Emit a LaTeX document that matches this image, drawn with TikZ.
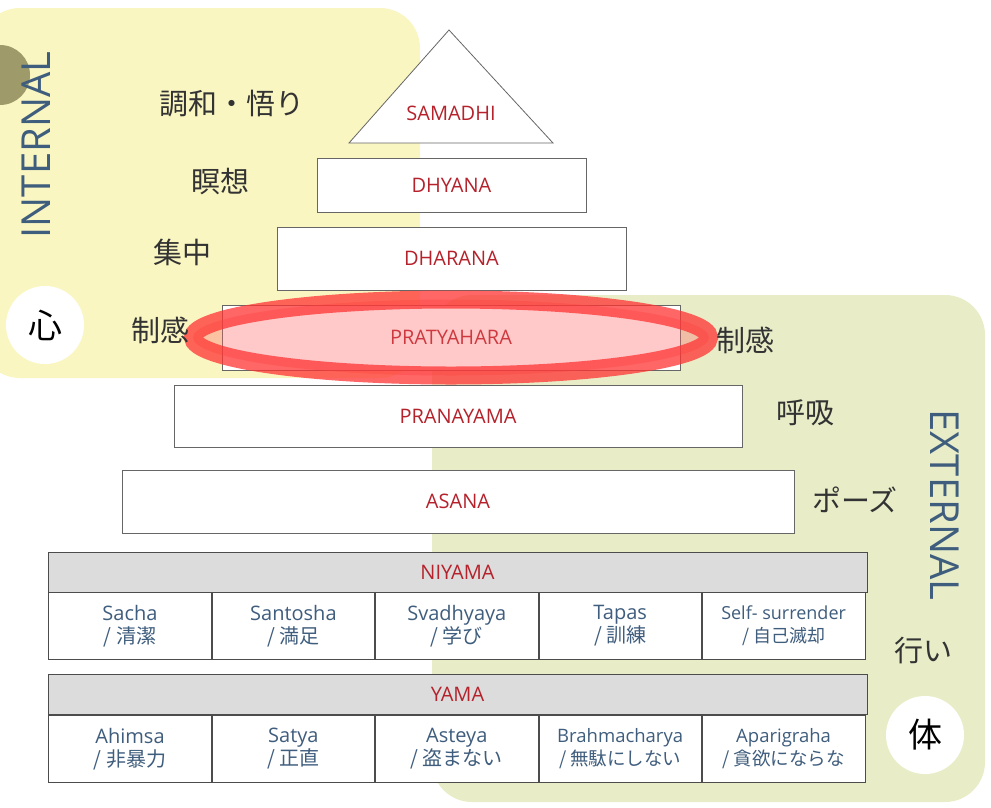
\documentclass[tikz,border=0pt]{standalone}
\usepackage{fontspec}
\usetikzlibrary{positioning}
\setmainfont{Open Sans}
\newfontfamily\jpfont{Noto Sans CJK JP}
\definecolor{lvred}{HTML}{B5222C}
\definecolor{lvblue}{HTML}{3F5D7D}
\definecolor{inyellow}{HTML}{FAF6C2}
\definecolor{exgreen}{HTML}{E8EDC8}
\definecolor{hdgray}{HTML}{DCDCDC}
\begin{document}
\begin{tikzpicture}[x=1pt, y=-1pt,
  limb/.style={draw=black!60, thick, fill=white},
  limbtext/.style={text=lvred, font=\fontsize{20}{22}\selectfont},
  jplabel/.style={font=\jpfont\fontsize{29}{32}\selectfont, text=black!80},
  cell/.style={draw=black!70, thick, fill=white, minimum width=162.6pt, minimum height=67pt, inner sep=0pt, align=center, text=lvblue, font=\fontsize{20}{23}\selectfont},
  header/.style={draw=black!70, thick, fill=hdgray, minimum width=819pt, minimum height=40pt, inner sep=0pt, text=lvred, font=\fontsize{20}{22}\selectfont},
  sidetext/.style={text=lvblue, font=\fontsize{40}{44}\selectfont},
  badge/.style={circle, fill=white, minimum size=78pt, inner sep=0pt, font=\jpfont\fontsize{34}{38}\selectfont}]
\useasboundingbox (0,0) rectangle (991,807);
\fill[white] (0,0) rectangle (991,807);
% areas
\fill[inyellow, rounded corners=40pt] (-20,8) rectangle (420,378);
\fill[exgreen, rounded corners=40pt] (432,295) rectangle (985,802);
\fill[black!45!olive!60] (0,75) circle (30pt);
% pyramid
\draw[limb] (449,30) -- (553,143) -- (349,143) -- cycle;
\node[limbtext] (samadhi) at (451,113) {SAMADHI};
\node[limb, minimum width=269pt, minimum height=54pt, inner sep=0pt] (dhyana) at (451.5,185) {};
\node[limbtext] at (dhyana) {DHYANA};
\node[limb, minimum width=349pt, minimum height=63pt, inner sep=0pt] (dharana) at (451.5,258.5) {};
\node[limbtext] at (dharana) {DHARANA};
\node[limb, minimum width=458pt, minimum height=65pt, inner sep=0pt] (pratyahara) at (451,337.5) {};
\node[limbtext] at (pratyahara) {PRATYAHARA};
\node[limb, minimum width=568pt, minimum height=62pt, inner sep=0pt] (pranayama) at (458,416) {};
\node[limbtext] at (pranayama) {PRANAYAMA};
\node[limb, minimum width=672pt, minimum height=63pt, inner sep=0pt] (asana) at (458,501.5) {};
\node[limbtext] at (asana) {ASANA};
% highlight
\fill[red!60, opacity=0.35] (pratyahara.center) ellipse (258pt and 38pt);
\draw[red!80, line width=18pt, opacity=0.75] (pratyahara.center) ellipse (258pt and 38pt);
% tables
\node[header] (niyama) at (457.5,572.5) {NIYAMA};
\node[cell] (n1) at (130,626) {Sacha\\{\jpfont / 清潔}};
\node[cell, right=0pt of n1] (n2) {Santosha\\{\jpfont / 満足}};
\node[cell, right=0pt of n2] (n3) {Svadhyaya\\{\jpfont / 学び}};
\node[cell, right=0pt of n3] (n4) {Tapas\\{\jpfont / 訓練}};
\node[cell, right=0pt of n4, font=\fontsize{18}{23}\selectfont] (n5) {Self- surrender\\{\jpfont / 自己滅却}};
\node[header] (yama) at (457.5,694.5) {YAMA};
\node[cell] (y1) at (130,749) {Ahimsa\\{\jpfont / 非暴力}};
\node[cell, right=0pt of y1] (y2) {Satya\\{\jpfont / 正直}};
\node[cell, right=0pt of y2] (y3) {Asteya\\{\jpfont / 盗まない}};
\node[cell, right=0pt of y3, font=\fontsize{18.5}{23}\selectfont] (y4) {Brahmacharya\\{\jpfont / 無駄にしない}};
\node[cell, right=0pt of y4, font=\fontsize{18.5}{23}\selectfont] (y5) {Aparigraha\\{\jpfont / 貪欲にならな}};
% labels
\node[jplabel] (lsamadhi) at (232,104) {調和・悟り};
\node[jplabel] (ldhyana) at (220,182) {瞑想};
\node[jplabel] (ldharana) at (182,252) {集中};
\node[jplabel] (lpraty) at (160,330) {制感};
\node[jplabel] (rpraty) at (745,340) {制感};
\node[jplabel] (rprana) at (805,413) {呼吸};
\node[jplabel] (rasana) at (855,500) {ポーズ};
\node[jplabel] (rniyama) at (923,650) {行い};
\node[sidetext, rotate=90] (internal) at (36,145) {INTERNAL};
\node[sidetext, rotate=-90] (external) at (945,505) {EXTERNAL};
\node[badge] (kokoro) at (45,325) {心};
\node[badge] (karada) at (925,735) {体};
\end{tikzpicture}
\end{document}
